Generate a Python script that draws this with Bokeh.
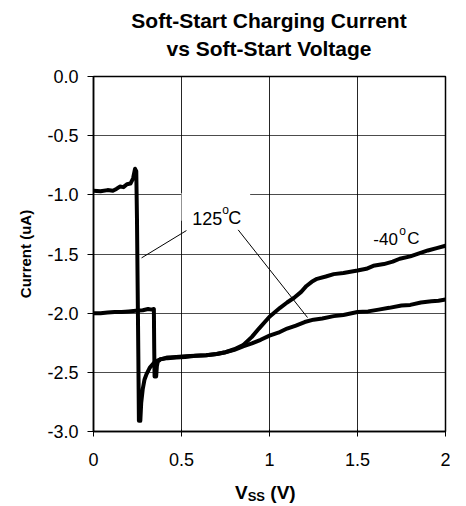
from bokeh.plotting import figure
from bokeh.layouts import column
from bokeh.models import Range1d, FixedTicker, PrintfTickFormatter, Label, Div
from bokeh.embed import file_html
from bokeh.resources import INLINE

# ---- data ----
v_125 = [0.0, 0.04, 0.08, 0.11, 0.13, 0.15, 0.17, 0.19, 0.21, 0.225, 0.236, 0.243,
         0.247, 0.251, 0.255, 0.258, 0.266, 0.271, 0.28, 0.29, 0.30, 0.32, 0.35,
         0.38, 0.42, 0.47, 0.52, 0.58, 0.64, 0.70, 0.75, 0.80, 0.85, 0.90, 0.95,
         1.00, 1.05, 1.10, 1.15, 1.20, 1.25, 1.30, 1.365, 1.42, 1.50, 1.56, 1.62,
         1.68, 1.75, 1.80, 1.86, 1.92, 1.96, 2.0]
i_125 = [-0.965, -0.97, -0.96, -0.965, -0.95, -0.93, -0.935, -0.91, -0.905, -0.86, -0.78, -0.80,
         -1.2, -1.8, -2.4, -2.91, -2.91, -2.76, -2.64, -2.56, -2.52, -2.46, -2.41,
         -2.39, -2.375, -2.37, -2.365, -2.36, -2.355, -2.345, -2.33, -2.31, -2.28, -2.255, -2.225,
         -2.19, -2.165, -2.13, -2.105, -2.075, -2.055, -2.045, -2.025, -2.015, -1.99, -1.985, -1.97,
         -1.955, -1.935, -1.93, -1.91, -1.9, -1.895, -1.885]

v_m40 = [0.0, 0.04, 0.08, 0.12, 0.16, 0.20, 0.24, 0.28, 0.31, 0.33, 0.343,
         0.345, 0.347, 0.356, 0.36, 0.365, 0.38, 0.42, 0.47, 0.52, 0.58, 0.64,
         0.70, 0.75, 0.80, 0.85, 0.90, 0.94, 1.00, 1.06, 1.10, 1.14, 1.18, 1.21,
         1.24, 1.27, 1.32, 1.365, 1.42, 1.50, 1.55, 1.59, 1.65, 1.70, 1.74, 1.80,
         1.85, 1.90, 1.95, 2.0]
i_m40 = [-2.0, -2.0, -1.995, -1.99, -1.99, -1.985, -1.98, -1.975, -1.965, -1.97, -1.965,
         -2.3, -2.535, -2.535, -2.45, -2.41, -2.39, -2.38, -2.375, -2.37, -2.36, -2.355,
         -2.345, -2.33, -2.305, -2.27, -2.2, -2.13, -2.03, -1.955, -1.91, -1.87, -1.82, -1.77,
         -1.735, -1.71, -1.69, -1.67, -1.66, -1.64, -1.625, -1.6, -1.585, -1.565, -1.54, -1.52,
         -1.495, -1.47, -1.45, -1.43]

x_ticks = [0, 0.5, 1, 1.5, 2]
y_ticks = [-3.0, -2.5, -2.0, -1.5, -1.0, -0.5, 0.0]

title_line1 = "Soft-Start Charging Current"
title_line2 = "vs Soft-Start Voltage"
y_label = "Current (uA)"

# leader lines for the 125 C label (data coordinates)
lead_x = [[0.528, 0.273], [0.822, 1.216]]
lead_y = [[-1.302, -1.533], [-1.296, -2.037]]

FONT = "Liberation Sans"

# ---- title as HTML text above the plot ----
title_div = Div(
    text=('<div style="box-sizing:border-box;width:450px;padding-left:88px;padding-top:7px;'
          'text-align:center;font-family:\'Liberation Sans\';font-size:21px;font-weight:bold;'
          'line-height:28px;white-space:nowrap;color:black">'
          f'{title_line1}<br>{title_line2}</div>'),
    width=450, height=62, margin=0)

p = figure(width=450, height=414, output_backend="svg", toolbar_location=None, title=None,
           x_range=Range1d(0, 2), y_range=Range1d(-3, 0),
           min_border_left=93, min_border_right=5, min_border_top=14, min_border_bottom=45)

p.outline_line_color = "black"
p.outline_line_width = 1.5

for ax in (p.xaxis[0], p.yaxis[0]):
    ax.axis_line_color = "black"
    ax.axis_line_width = 1.5
    ax.major_tick_line_color = "black"
    ax.major_tick_line_width = 1
    ax.minor_tick_line_color = None
    ax.major_label_text_font = FONT
    ax.major_label_text_font_size = "18px"
    ax.major_label_text_color = "black"

p.xaxis.ticker = FixedTicker(ticks=x_ticks)
p.yaxis.ticker = FixedTicker(ticks=y_ticks)
p.yaxis.formatter = PrintfTickFormatter(format="%.1f")
p.xaxis.major_tick_out = 5
p.xaxis.major_tick_in = 2
p.yaxis.major_tick_out = 6
p.yaxis.major_tick_in = 0
p.xaxis.major_label_standoff = 16
p.yaxis.major_label_standoff = 9

p.yaxis.axis_label = y_label
p.yaxis.axis_label_text_font = FONT
p.yaxis.axis_label_text_font_size = "15px"
p.yaxis.axis_label_text_font_style = "bold"
p.yaxis.axis_label_text_color = "black"
p.yaxis.axis_label_standoff = 10

p.xgrid.grid_line_color = "black"
p.ygrid.grid_line_color = "black"
p.xgrid.grid_line_alpha = 0.85
p.ygrid.grid_line_alpha = 0.7
p.xgrid.grid_line_width = 1
p.ygrid.grid_line_width = 1

# white box behind the 125C label (breaks the -1.0 gridline)
p.quad(left=[0.50], right=[0.89], bottom=[-1.22], top=[-0.985], fill_color="white", line_color=None)

p.line(v_125, i_125, line_color="black", line_width=4, line_join="round")
p.line(v_m40, i_m40, line_color="black", line_width=4, line_join="round")

p.multi_line(lead_x, lead_y, line_color="black", line_width=1)

def sup_label(x, y, main, size_main, size_sup, off_sup, off_c):
    p.add_layout(Label(x=x, y=y, text=main, text_font=FONT, text_font_size=size_main,
                       text_baseline="alphabetic", text_align="left", text_color="black"))
    p.add_layout(Label(x=x, y=y, text="o", x_offset=off_sup, y_offset=8, text_font=FONT,
                       text_font_size=size_sup, text_baseline="alphabetic", text_align="left",
                       text_color="black"))
    p.add_layout(Label(x=x, y=y, text="C", x_offset=off_c, text_font=FONT, text_font_size=size_main,
                       text_baseline="alphabetic", text_align="left", text_color="black"))

sup_label(0.561, -1.198, "125", "18px", "12px", 30, 36)
sup_label(1.590, -1.372, "-40", "17px", "12px", 26, 34)

# x axis label with subscript, as real HTML text under the plot
xlab = Div(
    text=('<div style="padding-left:235px;padding-top:7px;font-family:\'Liberation Sans\';'
          'font-size:19px;font-weight:bold;line-height:19px;white-space:nowrap;color:black">'
          'V<span style="font-size:13px;position:relative;top:2px">SS</span> (V)</div>'),
    width=450, height=28, margin=0)

layout = column(title_div, p, xlab, spacing=0)

open("out.html", "w").write(file_html(layout, INLINE))
